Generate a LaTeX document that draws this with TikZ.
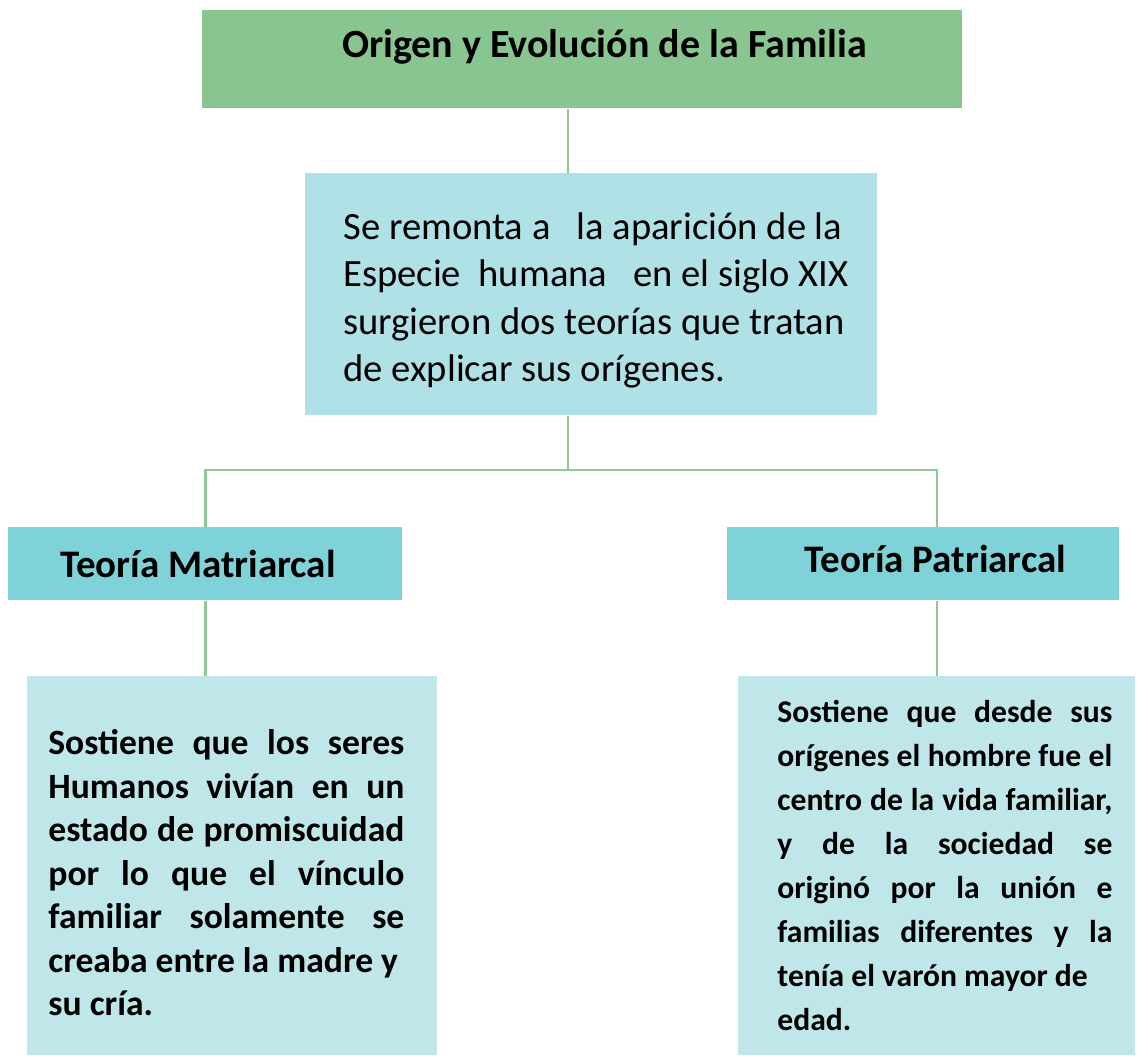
\documentclass[tikz,border=0pt]{standalone}
\usepackage{fontspec}
\setmainfont{Carlito}
\definecolor{tituloverde}{HTML}{88C590}
\definecolor{introazul}{HTML}{B0E1E6}
\definecolor{teoriaazul}{HTML}{7ED2D8}
\definecolor{textoazul}{HTML}{BFE7EA}
\definecolor{lineaverde}{HTML}{8DC994}
\begin{document}
\begin{tikzpicture}[x=0.5pt,y=-0.5pt,
    caja/.style={draw=none,anchor=north west,inner sep=0pt},
    enlace/.style={draw=lineaverde,line width=1.2pt}]
  \useasboundingbox (0,0) rectangle (1138,1055);

  \node[caja,fill=tituloverde,minimum width=380pt,minimum height=49pt,text depth=16pt,
    font=\bfseries\fontsize{20}{24}\selectfont] (origen) at (202,10)
    {\hspace*{22pt}Origen y Evolución de la Familia};

  \node[caja,fill=introazul,minimum width=286pt,minimum height=121pt,
    font=\fontsize{19.3}{23.7}\selectfont] (intro) at (305,173)
    {\hspace*{12pt}\raisebox{-3pt}[\height][\depth]{\parbox{260pt}{\raggedright
     Se remonta a\ \ \ la aparición de la\\ Especie\ \ humana\ \ \ en el siglo XIX\\
     surgieron dos teorías que tratan\\ de explicar sus orígenes.}}};

  \node[caja,fill=teoriaazul,minimum width=197pt,minimum height=36.5pt,
    font=\bfseries\fontsize{19.5}{23}\selectfont] (matri) at (8,527)
    {Teoría Matriarcal\hspace*{7.5pt}};
  \node[caja,fill=teoriaazul,minimum width=196pt,minimum height=36.5pt,
    font=\bfseries\fontsize{19.5}{23}\selectfont] (patri) at (727,527)
    {\hspace*{12pt}\raisebox{2.5pt}[\height][\depth]{Teoría Patriarcal}};

  \node[caja,fill=textoazul,minimum width=205pt,minimum height=189.5pt,
    font=\bfseries\fontsize{17.8}{21.75}\selectfont] (matritexto) at (27,676)
    {\raisebox{-3.5pt}[\height][\depth]{\parbox{178pt}{
     Sostiene que los seres\linebreak Humanos vivían en un\linebreak
     estado de promiscuidad\linebreak por lo que el vínculo\linebreak
     familiar solamente se\linebreak creaba entre la madre y\\ su cría.}}\hspace*{6pt}};
  \node[caja,fill=textoazul,minimum width=198.5pt,minimum height=189.5pt,
    font=\bfseries\fontsize{15.8}{22}\selectfont] (patritexto) at (738,676)
    {\hspace*{8pt}\parbox{167.5pt}{
     Sostiene que desde sus\linebreak orígenes el hombre fue el\linebreak
     centro de la vida familiar,\linebreak y de la sociedad se\linebreak
     originó por la unión e\linebreak familias diferentes y la\linebreak
     tenía el varón mayor de\\ edad.}};

  \coordinate (rama) at (568,470);
  \draw[enlace] (origen.south -| rama) -- (intro.north -| rama);
  \draw[enlace] (intro.south -| rama) -- (rama);
  \draw[enlace] (rama) -| (matri.north);
  \draw[enlace] (rama) -| (patri.north -| patritexto.north);
  \draw[enlace] (matri.south) -- (matritexto.north -| matri.south);
  \draw[enlace] (patri.south -| patritexto.north) -- (patritexto.north);
\end{tikzpicture}
\end{document}
